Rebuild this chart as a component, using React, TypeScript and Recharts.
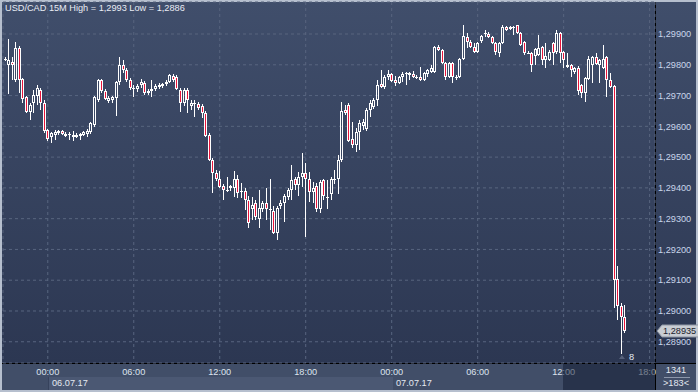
import React from 'react'
import {
  ComposedChart,
  Bar,
  XAxis,
  YAxis,
  CartesianGrid,
  ReferenceLine,
  ReferenceDot,
} from 'recharts'

// USD/CAD 15M candles, 05.07.17 21:00 .. 07.07.17 16:15
const OPEN = [
  1.29819, 1.29799, 1.29809, 1.29751, 1.29855, 1.29754, 1.29695, 1.29647, 1.29676, 1.29699,
  1.29718, 1.29676, 1.29588, 1.29565, 1.29572, 1.29578, 1.29585, 1.29575, 1.29575, 1.29565,
  1.29565, 1.29569, 1.29572, 1.29575, 1.29582, 1.29604, 1.29686, 1.29751, 1.29715, 1.29682,
  1.29686, 1.29692, 1.29744, 1.29799, 1.29783, 1.29751, 1.29725, 1.29721, 1.29734, 1.29741,
  1.29708, 1.29715, 1.29721, 1.29728, 1.29731, 1.29738, 1.29744, 1.29764, 1.29760, 1.29718,
  1.29676, 1.29718, 1.29666, 1.29676, 1.29673, 1.29666, 1.29643, 1.29572, 1.29491, 1.29448,
  1.29429, 1.29406, 1.29393, 1.29400, 1.29400, 1.29429, 1.29390, 1.29390, 1.29361, 1.29331,
  1.29351, 1.29299, 1.29331, 1.29351, 1.29331, 1.29325, 1.29253, 1.29341, 1.29351, 1.29370,
  1.29393, 1.29429, 1.29409, 1.29435, 1.29448, 1.29429, 1.29387, 1.29406, 1.29331, 1.29426,
  1.29370, 1.29380, 1.29429, 1.29429, 1.29491, 1.29653, 1.29669, 1.29559, 1.29539, 1.29582,
  1.29601, 1.29591, 1.29653, 1.29663, 1.29686, 1.29738, 1.29728, 1.29760, 1.29770, 1.29751,
  1.29741, 1.29760, 1.29773, 1.29767, 1.29770, 1.29760, 1.29760, 1.29751, 1.29770, 1.29777,
  1.29777, 1.29858, 1.29848, 1.29806, 1.29760, 1.29806, 1.29760, 1.29760, 1.29819, 1.29890,
  1.29874, 1.29858, 1.29842, 1.29877, 1.29900, 1.29900, 1.29890, 1.29871, 1.29838, 1.29871,
  1.29923, 1.29916, 1.29923, 1.29929, 1.29903, 1.29874, 1.29838, 1.29838, 1.29829, 1.29832,
  1.29858, 1.29816, 1.29816, 1.29871, 1.29842, 1.29903, 1.29842, 1.29799, 1.29799, 1.29777,
  1.29790, 1.29734, 1.29708, 1.29754, 1.29799, 1.29825, 1.29799, 1.29790, 1.29825, 1.29751,
  1.29731, 1.29104, 1.29016, 1.28981,
]

const HIGH = [
  1.29825, 1.29884, 1.29825, 1.29874, 1.29861, 1.29757, 1.29699, 1.29676, 1.29718, 1.29734,
  1.29725, 1.29686, 1.29591, 1.29582, 1.29588, 1.29588, 1.29588, 1.29582, 1.29582, 1.29585,
  1.29578, 1.29578, 1.29585, 1.29591, 1.29614, 1.29699, 1.29754, 1.29754, 1.29721, 1.29699,
  1.29699, 1.29747, 1.29825, 1.29816, 1.29790, 1.29757, 1.29734, 1.29738, 1.29754, 1.29747,
  1.29721, 1.29751, 1.29738, 1.29741, 1.29741, 1.29751, 1.29770, 1.29770, 1.29767, 1.29725,
  1.29725, 1.29725, 1.29686, 1.29686, 1.29679, 1.29673, 1.29650, 1.29578, 1.29497, 1.29458,
  1.29455, 1.29413, 1.29435, 1.29409, 1.29455, 1.29442, 1.29416, 1.29400, 1.29374, 1.29370,
  1.29361, 1.29393, 1.29357, 1.29400, 1.29429, 1.29341, 1.29341, 1.29361, 1.29380, 1.29400,
  1.29474, 1.29435, 1.29452, 1.29513, 1.29481, 1.29452, 1.29419, 1.29416, 1.29426, 1.29429,
  1.29426, 1.29435, 1.29458, 1.29507, 1.29679, 1.29669, 1.29676, 1.29614, 1.29595, 1.29621,
  1.29624, 1.29660, 1.29686, 1.29692, 1.29751, 1.29783, 1.29767, 1.29783, 1.29773, 1.29764,
  1.29764, 1.29777, 1.29777, 1.29777, 1.29780, 1.29767, 1.29793, 1.29777, 1.29786, 1.29799,
  1.29861, 1.29864, 1.29851, 1.29809, 1.29809, 1.29809, 1.29767, 1.29822, 1.29930, 1.29903,
  1.29881, 1.29871, 1.29874, 1.29897, 1.29913, 1.29906, 1.29894, 1.29874, 1.29874, 1.29929,
  1.29926, 1.29926, 1.29926, 1.29929, 1.29906, 1.29877, 1.29845, 1.29842, 1.29855, 1.29897,
  1.29861, 1.29871, 1.29848, 1.29874, 1.29913, 1.29906, 1.29845, 1.29838, 1.29803, 1.29793,
  1.29796, 1.29738, 1.29760, 1.29829, 1.29829, 1.29838, 1.29819, 1.29864, 1.29829, 1.29773,
  1.29734, 1.29146, 1.29026, 1.29020,
]

const LOW = [
  1.29812, 1.29705, 1.29751, 1.29744, 1.29708, 1.29676, 1.29643, 1.29621, 1.29643, 1.29669,
  1.29653, 1.29578, 1.29552, 1.29546, 1.29556, 1.29572, 1.29572, 1.29565, 1.29556, 1.29552,
  1.29562, 1.29556, 1.29569, 1.29565, 1.29575, 1.29598, 1.29679, 1.29708, 1.29686, 1.29676,
  1.29676, 1.29634, 1.29734, 1.29773, 1.29744, 1.29718, 1.29695, 1.29712, 1.29725, 1.29702,
  1.29702, 1.29695, 1.29715, 1.29721, 1.29725, 1.29731, 1.29741, 1.29744, 1.29718, 1.29647,
  1.29666, 1.29643, 1.29653, 1.29630, 1.29653, 1.29627, 1.29565, 1.29487, 1.29383, 1.29422,
  1.29400, 1.29361, 1.29387, 1.29390, 1.29370, 1.29367, 1.29367, 1.29328, 1.29270, 1.29296,
  1.29296, 1.29270, 1.29322, 1.29296, 1.29263, 1.29250, 1.29231, 1.29331, 1.29289, 1.29361,
  1.29361, 1.29393, 1.29374, 1.29403, 1.29240, 1.29354, 1.29351, 1.29322, 1.29318, 1.29361,
  1.29331, 1.29361, 1.29413, 1.29380, 1.29484, 1.29637, 1.29549, 1.29530, 1.29517, 1.29523,
  1.29588, 1.29585, 1.29630, 1.29656, 1.29666, 1.29725, 1.29721, 1.29751, 1.29744, 1.29731,
  1.29738, 1.29744, 1.29734, 1.29751, 1.29757, 1.29754, 1.29747, 1.29747, 1.29760, 1.29773,
  1.29773, 1.29845, 1.29803, 1.29751, 1.29757, 1.29741, 1.29751, 1.29757, 1.29816, 1.29855,
  1.29855, 1.29838, 1.29838, 1.29871, 1.29890, 1.29887, 1.29868, 1.29832, 1.29825, 1.29868,
  1.29910, 1.29913, 1.29897, 1.29900, 1.29861, 1.29832, 1.29835, 1.29777, 1.29799, 1.29829,
  1.29799, 1.29790, 1.29812, 1.29799, 1.29835, 1.29806, 1.29790, 1.29790, 1.29760, 1.29770,
  1.29702, 1.29692, 1.29679, 1.29751, 1.29741, 1.29799, 1.29741, 1.29786, 1.29695, 1.29725,
  1.29010, 1.28971, 1.28860, 1.28929,
]

const CLOSE = [
  1.29819, 1.29816, 1.29799, 1.29855, 1.29751, 1.29689, 1.29647, 1.29669, 1.29702, 1.29725,
  1.29676, 1.29585, 1.29559, 1.29578, 1.29582, 1.29585, 1.29575, 1.29569, 1.29575, 1.29572,
  1.29572, 1.29575, 1.29582, 1.29585, 1.29611, 1.29695, 1.29751, 1.29715, 1.29689, 1.29692,
  1.29695, 1.29744, 1.29799, 1.29783, 1.29751, 1.29725, 1.29725, 1.29731, 1.29744, 1.29708,
  1.29715, 1.29721, 1.29731, 1.29734, 1.29738, 1.29744, 1.29767, 1.29751, 1.29721, 1.29676,
  1.29718, 1.29686, 1.29676, 1.29676, 1.29660, 1.29643, 1.29569, 1.29491, 1.29448, 1.29429,
  1.29403, 1.29393, 1.29393, 1.29406, 1.29429, 1.29383, 1.29390, 1.29361, 1.29286, 1.29344,
  1.29305, 1.29335, 1.29351, 1.29331, 1.29331, 1.29253, 1.29335, 1.29351, 1.29374, 1.29393,
  1.29426, 1.29409, 1.29435, 1.29448, 1.29429, 1.29387, 1.29400, 1.29331, 1.29419, 1.29374,
  1.29370, 1.29429, 1.29429, 1.29491, 1.29650, 1.29643, 1.29552, 1.29539, 1.29582, 1.29611,
  1.29614, 1.29653, 1.29676, 1.29686, 1.29734, 1.29728, 1.29760, 1.29770, 1.29747, 1.29741,
  1.29760, 1.29770, 1.29773, 1.29773, 1.29760, 1.29760, 1.29751, 1.29773, 1.29783, 1.29790,
  1.29858, 1.29848, 1.29806, 1.29760, 1.29806, 1.29760, 1.29760, 1.29819, 1.29894, 1.29874,
  1.29858, 1.29842, 1.29871, 1.29894, 1.29903, 1.29890, 1.29871, 1.29842, 1.29871, 1.29923,
  1.29913, 1.29923, 1.29923, 1.29903, 1.29864, 1.29838, 1.29838, 1.29799, 1.29851, 1.29855,
  1.29816, 1.29829, 1.29842, 1.29838, 1.29903, 1.29838, 1.29816, 1.29793, 1.29783, 1.29790,
  1.29715, 1.29708, 1.29757, 1.29819, 1.29825, 1.29803, 1.29816, 1.29819, 1.29751, 1.29728,
  1.29101, 1.29016, 1.28981, 1.28935,
]

const SLOT_COUNT = 182 // bars that fit in the window
const TIME_TICKS = [
  '06.07 00:00', '06.07 06:00', '06.07 12:00', '06.07 18:00',
  '07.07 00:00', '07.07 06:00', '07.07 12:00', '07.07 18:00',
]
const PRICE_TICKS = [1.289, 1.29, 1.291, 1.292, 1.293, 1.294, 1.295, 1.296, 1.297, 1.298, 1.299]
const LAST_PRICE = 1.28935
const LOW_MARK_INDEX = 172
const FONT = '"Liberation Sans", Arial, sans-serif'

const W = 698
const H = 392

const fmtPrice = (v: number) => v.toFixed(5).replace('.', ',')

function slotLabel(i: number) {
  const m = 21 * 60 + i * 15
  const d = 5 + Math.floor(m / 1440)
  const mm = m % 1440
  const hh = String(Math.floor(mm / 60)).padStart(2, '0')
  const mi = String(mm % 60).padStart(2, '0')
  return `0${d}.07 ${hh}:${mi}`
}

const data = Array.from({ length: SLOT_COUNT }, (_, i) => {
  const t = slotLabel(i)
  if (i >= OPEN.length) return { t }
  return { t, o: OPEN[i], h: HIGH[i], l: LOW[i], c: CLOSE[i], range: [LOW[i], HIGH[i]] }
})

function Candle(props: any) {
  const { x, y, width, height, payload } = props
  if (!payload || payload.o == null) return null
  const { o, h, l, c } = payload
  const k = h > l ? height / (h - l) : 0
  const yO = y + (h - o) * k
  const yC = y + (h - c) * k
  const top = Math.round(Math.min(yO, yC))
  const bot = Math.round(Math.max(yO, yC))
  const left = Math.floor(x + width / 2) - 1
  const cx = left + 1.5
  const yHigh = Math.round(y)
  const yLow = Math.round(y + height)
  const bear = c < o

  if (bot - top < 2) {
    return (
      <g shapeRendering="crispEdges">
        <line x1={cx} x2={cx} y1={yHigh} y2={yLow} stroke="#fff" />
        <rect x={left} y={top} width={3} height={1} fill="#fff" />
      </g>
    )
  }
  if (bear) {
    return (
      <g shapeRendering="crispEdges">
        <line x1={cx} x2={cx} y1={yHigh} y2={yLow} stroke="#fff" />
        <rect x={left} y={top} width={3} height={bot - top} fill="#fff" />
        <rect x={left + 1} y={top + 1} width={1} height={bot - top - 2} fill="#e8143a" />
      </g>
    )
  }
  return (
    <g shapeRendering="crispEdges">
      <line x1={cx} x2={cx} y1={yHigh} y2={top} stroke="#fff" />
      <line x1={cx} x2={cx} y1={bot} y2={yLow} stroke="#fff" />
      <rect x={left + 0.5} y={top + 0.5} width={2} height={bot - top - 1} fill="none" stroke="#fff" />
    </g>
  )
}

function TimeTick({ x, y, payload }: any) {
  return (
    <text x={x} y={y + 9} textAnchor="middle" dominantBaseline="central"
      fill="#dde4ee" fontSize={9.2} fontFamily={FONT}>
      {String(payload.value).slice(6)}
    </text>
  )
}

function PriceTag(props: any) {
  const vb = props.viewBox
  if (!vb) return null
  const x = vb.x + vb.width + 2
  const y = vb.y
  return (
    <g>
      <path d={`M${x} ${y} L${x + 5} ${y - 6} H${x + 42} V${y + 6} H${x + 5} Z`}
        fill="#c9cdd3" stroke="#8e96a4" />
      <text x={x + 6} y={y + 0.5} dominantBaseline="central" fontSize={9.2}
        fontFamily={FONT} fill="#1c222c">{fmtPrice(LAST_PRICE)}</text>
    </g>
  )
}

function LowMark({ cx, cy }: any) {
  if (cx == null) return null
  return (
    <g>
      <path d={`M${cx - 2} ${cy + 5} L${cx + 1} ${cy + 1} L${cx + 4} ${cy + 5} Z`} fill="#55607a" />
      <text x={cx + 8} y={cy + 3} dominantBaseline="central" fontSize={9.2}
        fontFamily={FONT} fill="#e6ebf2">8</text>
    </g>
  )
}

const abs = (l: number, t: number, w: number, h: number, extra: React.CSSProperties = {}): React.CSSProperties => ({
  position: 'absolute', left: l, top: t, width: w, height: h, ...extra,
})

export default function App() {
  const textStyle: React.CSSProperties = {
    fontFamily: FONT, fontSize: 9.2, color: '#e4e9f1', lineHeight: '13px', whiteSpace: 'nowrap',
  }
  return (
    <div style={{ position: 'fixed', left: 0, top: 0, width: W, height: H, overflow: 'hidden', background: '#b6bfce' }}>
      <div style={abs(2, 2, 694, 361, { background: 'linear-gradient(180deg, #404e6b 0%, #2c3752 100%)' })} />
      <div style={abs(2, 364, 694, 26, { background: '#414e68' })} />
      <div style={abs(48, 377, 344, 13, { background: '#4b5873', borderLeft: '1px solid #36425c' })} />
      <div style={abs(2, 363, 694, 1, { background: '#000' })} />
      <div style={abs(655, 2, 1, 388, { background: '#000' })} />

      <div style={{ position: 'absolute', left: 0, top: 0 }}>
        <ComposedChart width={W} height={H} data={data}
          margin={{ top: 2, right: 0, bottom: 0, left: 3 }} barCategoryGap={0}>
          <CartesianGrid stroke="#58657f" strokeDasharray="3 3" />
          <XAxis dataKey="t" ticks={TIME_TICKS} interval={0} height={29}
            axisLine={false} tickLine={false} tickSize={0} tickMargin={0} tick={<TimeTick />} />
          <YAxis orientation="right" width={43} domain={[1.28831, 1.30004]} allowDataOverflow
            ticks={PRICE_TICKS} tickFormatter={fmtPrice} axisLine={false} tickLine={false}
            tickSize={0} tickMargin={3}
            tick={{ fill: '#c9d5ea', fontSize: 9.2, fontFamily: FONT }} />
          <Bar dataKey="range" shape={<Candle />} isAnimationActive={false} />
          <ReferenceLine y={LAST_PRICE} stroke="none" label={(p: any) => <PriceTag {...p} />} />
          <ReferenceDot x={data[LOW_MARK_INDEX].t} y={LOW[LOW_MARK_INDEX]} r={0}
            shape={(p: any) => <LowMark {...p} />} />
        </ComposedChart>
      </div>

      {/* dimmed tail of the time scale */}
      <div style={abs(563, 364, 92, 26, { background: 'rgba(16,24,46,0.5)' })} />

      <div style={{ ...textStyle, position: 'absolute', left: 5, top: 2, color: '#e8ecf4' }}>
        USD/CAD 15M High = 1,2993 Low = 1,2886
      </div>
      <div style={{ ...textStyle, position: 'absolute', left: 52, top: 377 }}>06.07.17</div>
      <div style={{ ...textStyle, position: 'absolute', left: 396, top: 377 }}>07.07.17</div>

      <div style={abs(656, 364, 40, 26, { background: '#414e68' })}>
        <div style={{ ...textStyle, textAlign: 'center', marginTop: 0 }}>1341</div>
        <div style={{ position: 'absolute', left: 8, right: 6, top: 13, height: 1, background: '#8c97ab' }} />
        <div style={{ ...textStyle, textAlign: 'center' }}>&gt;183&lt;</div>
      </div>
    </div>
  )
}
